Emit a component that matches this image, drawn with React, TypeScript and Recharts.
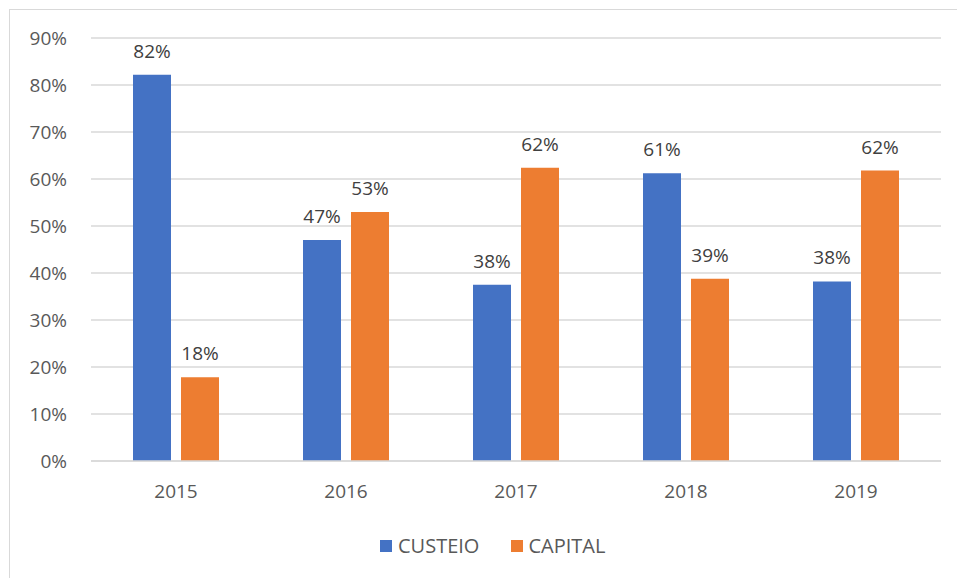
import {
  BarChart,
  Bar,
  XAxis,
  YAxis,
  CartesianGrid,
  Legend,
  LabelList,
} from 'recharts';

const anos = ['2015', '2016', '2017', '2018', '2019'];
const custeio = [82.2, 47.0, 37.5, 61.2, 38.2];
const capital = [17.8, 53.0, 62.4, 38.8, 61.8];
const yTicks = [0, 10, 20, 30, 40, 50, 60, 70, 80, 90];

const dados = anos.map((ano, i) => ({
  ano,
  CUSTEIO: custeio[i],
  CAPITAL: capital[i],
}));

const AZUL = '#4472C4';
const LARANJA = '#ED7D31';
const FONTE = '"Open Sans", sans-serif';
const TAM = 19;

const pct = (v: number) => `${Math.round(v)}%`;

const Legenda = () => (
  <div style={{ display: 'flex', alignItems: 'center', fontFamily: FONTE, fontSize: 20, color: '#595959' }}>
    <span style={{ width: 12, height: 12, background: AZUL, display: 'inline-block', marginRight: 6 }} />
    <span style={{ marginRight: 32 }}>CUSTEIO</span>
    <span style={{ width: 12, height: 12, background: LARANJA, display: 'inline-block', marginRight: 5 }} />
    <span>CAPITAL</span>
  </div>
);

const App = () => {
  return (
    <div style={{ position: 'fixed', left: 0, top: 0, width: 957, height: 578, overflow: 'hidden', background: '#fff' }}>
      <div
        style={{
          position: 'absolute',
          left: 9,
          top: 9,
          width: 2000,
          height: 2000,
          border: '1px solid #D9D9D9',
        }}
      />
      <div style={{ position: 'absolute', left: 0, top: 0 }}>
        <BarChart
          width={957}
          height={578}
          data={dados}
          margin={{ top: 38, right: 16, left: 0, bottom: 20 }}
          barSize={38}
          barGap={10}
        >
          <CartesianGrid vertical={false} stroke="#D9D9D9" strokeWidth={1.5} />
          <XAxis
            dataKey="ano"
            height={70}
            tickLine={false}
            axisLine={{ stroke: '#D9D9D9', strokeWidth: 1.5 }}
            tickSize={0}
            tickMargin={24}
            tick={{ fill: '#595959', fontSize: TAM, fontFamily: FONTE }}
          />
          <YAxis
            width={91}
            domain={[0, 90]}
            ticks={yTicks}
            tickFormatter={(v: number) => `${v}%`}
            axisLine={false}
            tickLine={false}
            tickSize={0}
            tickMargin={24}
            tick={{ fill: '#595959', fontSize: TAM, fontFamily: FONTE }}
          />
          <Legend
            content={() => <Legenda />}
            wrapperStyle={{ left: 380, top: 532, width: 300 }}
          />
          <Bar dataKey="CUSTEIO" fill={AZUL} isAnimationActive={false}>
            <LabelList
              dataKey="CUSTEIO"
              position="top"
              offset={17}
              formatter={(v: number) => pct(v)}
              style={{ fill: '#404040', fontSize: TAM, fontFamily: FONTE }}
            />
          </Bar>
          <Bar dataKey="CAPITAL" fill={LARANJA} isAnimationActive={false}>
            <LabelList
              dataKey="CAPITAL"
              position="top"
              offset={17}
              formatter={(v: number) => pct(v)}
              style={{ fill: '#404040', fontSize: TAM, fontFamily: FONTE }}
            />
          </Bar>
        </BarChart>
      </div>
    </div>
  );
};

export default App;
